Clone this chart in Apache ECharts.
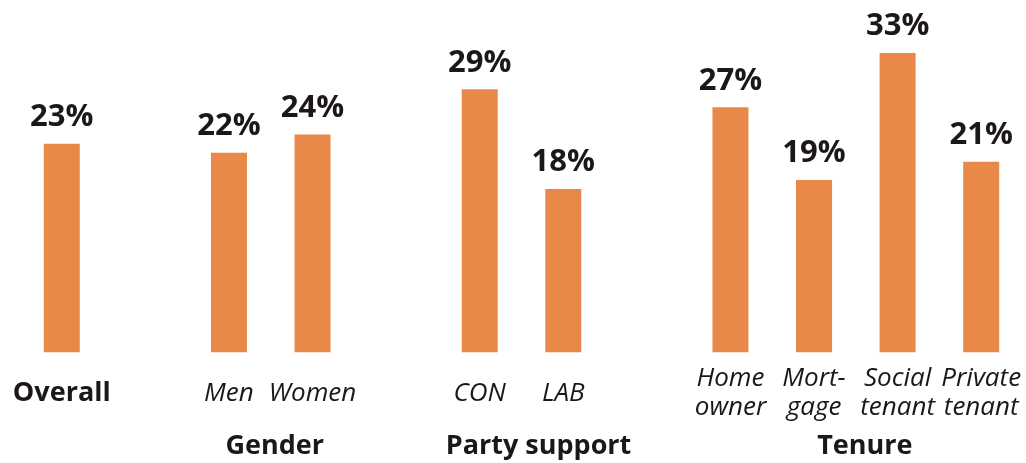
<!DOCTYPE html>
<html>
<head>
<meta charset="utf-8">
<script src="https://cdn.jsdelivr.net/npm/echarts@6/dist/echarts.min.js"></script>
<style>
  html, body { margin: 0; padding: 0; background: #ffffff; }
  #chart { width: 1026px; height: 463px; }
</style>
</head>
<body>
<div id="chart"></div>
<script>
// Category slots; empty strings leave a blank slot between groups
const categories = ['Overall', '', 'Men', 'Women', '', 'CON', 'LAB', '', 'Home\nowner', 'Mort-\ngage', 'Social\ntenant', 'Private\ntenant'];
// Share (%) per category; null for the spacer slots
const values = [23, null, 22, 24, null, 29, 18, null, 27, 19, 33, 21];
// Group headings and the category slots they span
const groupNames = ['Gender', 'Party support', 'Tenure'];
const groupSpans = [[2, 3], [5, 6], [8, 11]];

const BAR = '#E8894A';
const INK = '#1c1718';
const FONT = '"Open Sans", "Noto Sans", sans-serif';

const chart = echarts.init(document.getElementById('chart'), null, { renderer: 'canvas' });

chart.setOption({
  animation: false,
  grid: { left: 20, right: 3, top: 34.8, bottom: 110.7, containLabel: false },
  xAxis: {
    type: 'category',
    data: categories,
    axisLine: { show: false },
    axisTick: { show: false },
    axisLabel: {
      interval: 0,
      margin: 41,
      verticalAlign: 'middle',
      formatter: (v) => v === 'Overall' ? '{b|' + v + '}' : v.split('\n').map(s => '{i|' + s + '}').join('\n'),
      rich: {
        b: { fontFamily: FONT, fontWeight: 'bold', fontSize: 27, color: INK, lineHeight: 29 },
        i: { fontFamily: FONT, fontStyle: 'italic', fontSize: 26, color: INK, lineHeight: 29 }
      }
    }
  },
  yAxis: {
    type: 'value',
    min: 0,
    max: 35,
    show: false,
    splitLine: { show: false }
  },
  series: [{
    type: 'bar',
    data: values,
    barWidth: 36,
    itemStyle: { color: BAR },
    label: {
      show: true,
      position: 'top',
      distance: 11,
      formatter: '{c}%',
      fontFamily: FONT,
      fontWeight: 'bold',
      fontSize: 31,
      color: INK
    }
  }]
});

// Group headings centred under their bars (with a slight optical shift)
const shifts = [4, 17, 9];
chart.setOption({
  graphic: groupNames.map((name, k) => {
    const a = chart.convertToPixel({ xAxisIndex: 0 }, groupSpans[k][0]);
    const b = chart.convertToPixel({ xAxisIndex: 0 }, groupSpans[k][1]);
    return {
      type: 'text',
      x: (a + b) / 2 + shifts[k],
      y: 446,
      style: {
        text: name,
        fontFamily: FONT,
        fontWeight: 'bold',
        fontSize: 27,
        fill: INK,
        align: 'center',
        verticalAlign: 'middle'
      }
    };
  })
});
</script>
</body>
</html>
